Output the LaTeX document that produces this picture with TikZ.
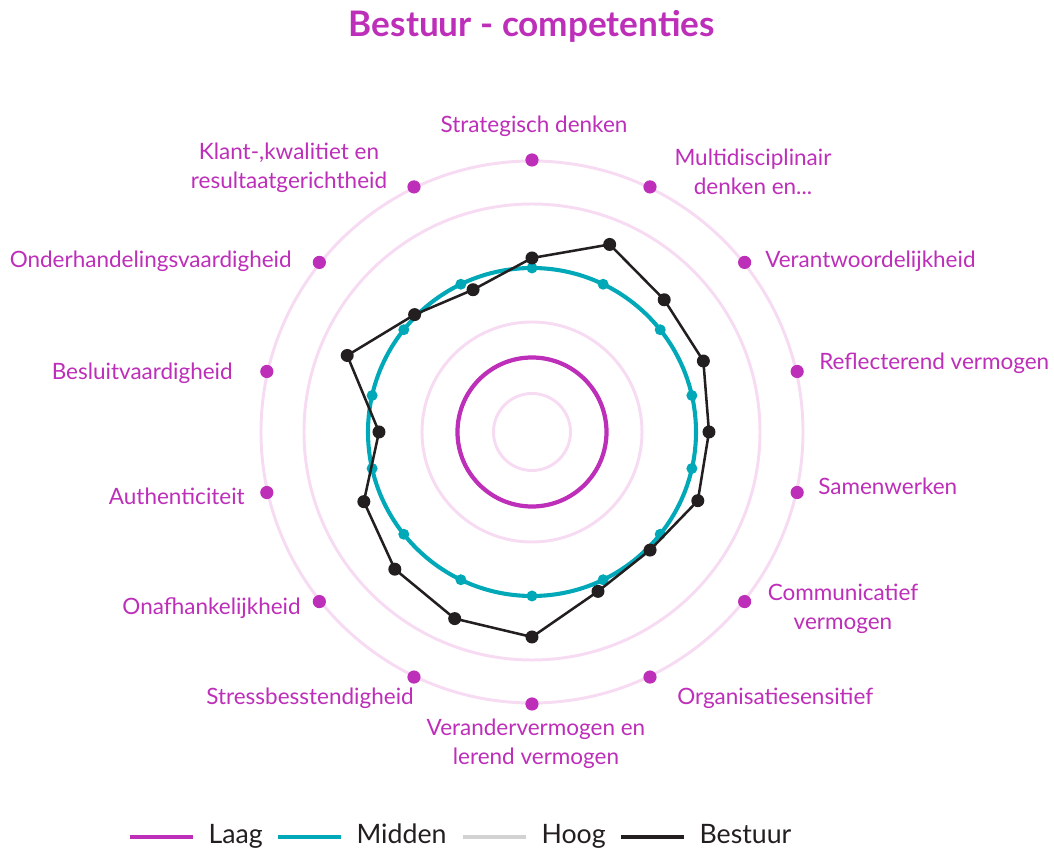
\documentclass[tikz,border=0pt]{standalone}
\usepackage{fontspec}
\setmainfont{Lato}
\usepackage{tikz}
\usetikzlibrary{positioning}

\definecolor{compmag}{RGB}{189,46,185}
\definecolor{comppale}{RGB}{246,219,242}
\definecolor{compteal}{RGB}{0,168,184}
\definecolor{compblack}{RGB}{35,31,32}
\definecolor{compgray}{RGB}{210,210,210}

\begin{document}
\begin{tikzpicture}[
    x=0.025cm, y=0.025cm,
    ring/.style={draw=comppale, line width=2.1pt},
    laag/.style={draw=compmag, line width=3pt},
    midden/.style={draw=compteal, line width=2.9pt},
    bestuur/.style={draw=compblack, line width=1.8pt, line join=round},
    magdot/.style={circle, fill=compmag, inner sep=0pt, minimum size=0.33cm},
    lbl/.style={text=compmag, font=\fontsize{16pt}{21pt}\selectfont, inner sep=0pt, align=center},
    legtxt/.style={text=compblack, font=\fontsize{19pt}{22pt}\selectfont, inner sep=0pt, anchor=mid west, xshift=0.35cm, yshift=-0.08cm}
]
\useasboundingbox (-532,-421) rectangle (522,432);

% Title
\node[text=compmag, font=\fontsize{25pt}{29pt}\selectfont\bfseries] (title) at (0,406) {Bestuur - competenties};

% Grid rings
\foreach \r in {38.5,110,228,271}
    \draw[ring] (0,0) circle (\r);

% Laag
\draw[laag] (0,0) circle (74.5);

% Midden
\draw[midden] (0,0) circle (164);
\foreach \i in {0,...,13}
    \fill[compteal] ({90-\i*360/14}:164) circle (5.5);

% Bestuur
\foreach \r [count=\i from 0] in {174,203,187,185.5,177,179.5,167,172.5,205,202,194,182,153,200,166,154}
    \coordinate (b\i) at ({90-22.5*\i}:\r);
\draw[bestuur] (b0) \foreach \i in {1,...,15}{ -- (b\i)} -- cycle;
\foreach \i in {0,...,15}
    \fill[compblack] (b\i) circle (6.5);

% Axis dots
\foreach \i in {0,...,13}
    \node[magdot] (d\i) at ({90-\i*360/14}:272) {};

% Labels
\node[lbl] (l0) at (2,306) {Strategisch denken};
\node[lbl] (l1) at (221,260) {Multidisciplinair\\denken en...};
\node[lbl, anchor=mid west] (l2) at (233,168) {Verantwoordelijkheid};
\node[lbl, anchor=mid west] (l3) at (287,66) {Reflecterend vermogen};
\node[lbl, anchor=mid west] (l4) at (286,-59) {Samenwerken};
\node[lbl] (l5) at (311,-177) {Communicatief\\vermogen};
\node[lbl, anchor=mid west] (l6) at (145,-269) {Organisatiesensitief};
\node[lbl] (l7) at (4,-312) {Verandervermogen en\\lerend vermogen};
\node[lbl, anchor=mid east] (l8) at (-118,-269) {Stressbesstendigheid};
\node[lbl, anchor=mid east] (l9) at (-231,-179) {Onafhankelijkheid};
\node[lbl, anchor=mid east] (l10) at (-287,-69) {Authenticiteit};
\node[lbl, anchor=mid east] (l11) at (-299,56) {Besluitvaardigheid};
\node[lbl, anchor=mid east] (l12) at (-240,168) {Onderhandelingsvaardigheid};
\node[lbl] (l13) at (-243,264) {Klant-,kwalitiet en\\resultaatgerichtheid};

% Legend
\coordinate (k1) at (-402,-405);
\coordinate (k2) at (-254,-405);
\coordinate (k3) at (-69,-405);
\coordinate (k4) at (89,-405);
\draw[draw=compmag, line width=2.2pt] (k1) -- ++(63,0) node[legtxt] (t1) {Laag};
\draw[draw=compteal, line width=2.2pt] (k2) -- ++(63,0) node[legtxt] (t2) {Midden};
\draw[draw=compgray, line width=2.2pt] (k3) -- ++(63,0) node[legtxt] (t3) {Hoog};
\draw[draw=compblack, line width=2.2pt] (k4) -- ++(63,0) node[legtxt] (t4) {Bestuur};

\end{tikzpicture}
\end{document}
